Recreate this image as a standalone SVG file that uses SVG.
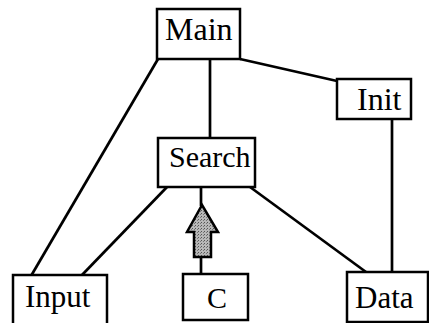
<svg xmlns="http://www.w3.org/2000/svg" width="429" height="323" viewBox="0 0 429 323">
<defs>
<style>
.box{fill:#fff;stroke:#000;stroke-width:2.5}
.lbl{font-family:"Liberation Serif","Times New Roman",serif;font-size:30px;fill:#000}
.edge{stroke:#000;stroke-width:2.7;fill:none}
.arrow{stroke:#000;stroke-width:2.5;stroke-linejoin:miter}
</style>
<pattern id="stip" width="3" height="3" patternUnits="userSpaceOnUse">
<rect width="3" height="3" fill="#b8b8b8"/>
<rect width="1" height="1" fill="#555"/>
<rect x="2" y="1" width="1" height="1" fill="#777"/>
</pattern>
</defs>
<rect width="429" height="323" fill="#fff"/>
<g id="connectors">
<line class="edge" x1="158" y1="59" x2="31" y2="276"/>
<line class="edge" x1="210" y1="59" x2="210" y2="138"/>
<line class="edge" x1="240" y1="59" x2="337" y2="81"/>
<line class="edge" x1="392" y1="119" x2="392" y2="272"/>
<line class="edge" x1="167" y1="187" x2="82" y2="275"/>
<line class="edge" x1="250" y1="187" x2="366" y2="272"/>
<line class="edge" x1="201" y1="187" x2="201" y2="206"/>
<line class="edge" x1="201" y1="257" x2="201" y2="274"/>
<path class="arrow" d="M202,205 L218,232 L211,232 L211,257 L194,257 L194,232 L187,232 Z" style="fill:url(#stip)"/>
</g>
<g id="main">
<rect class="box" x="157" y="9" width="83" height="50"/>
<text class="lbl" x="165" y="40" style="font-size:32px">Main</text>
</g>
<g id="search">
<rect class="box" x="158" y="138" width="97" height="49"/>
<text class="lbl" x="169" y="167">Search</text>
</g>
<g id="init">
<rect class="box" x="337" y="79" width="74" height="40"/>
<text class="lbl" x="357" y="110" style="font-size:32px">Init</text>
</g>
<g id="input">
<rect class="box" x="13" y="275" width="94" height="50"/>
<text class="lbl" x="25" y="307" style="font-size:31px">Input</text>
</g>
<g id="c">
<rect class="box" x="183" y="274" width="65" height="46"/>
<text class="lbl" x="207" y="308">C</text>
</g>
<g id="data">
<rect class="box" x="347" y="272" width="81" height="50"/>
<text class="lbl" x="355" y="308" style="font-size:31px">Data</text>
</g>
</svg>
